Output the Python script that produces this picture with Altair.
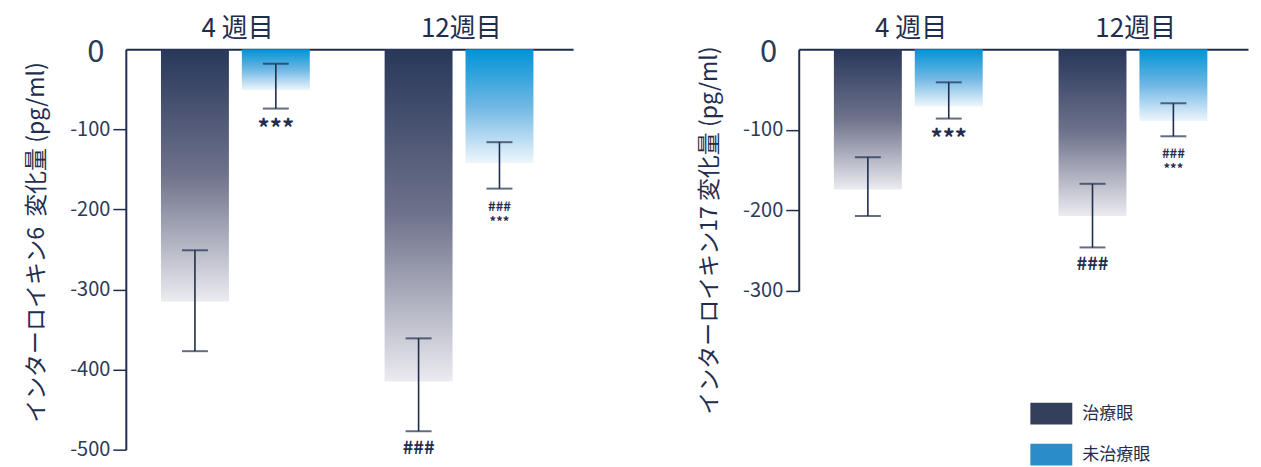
import altair as alt
import pandas as pd

groups = ["4 週目", "12週目"]
series = ["治療眼", "未治療眼"]
bar_group = [groups[0], groups[0], groups[1], groups[1]]
bar_series = [series[0], series[1], series[0], series[1]]

il6_mean = [-315, -51, -415, -142]
il6_err_lo = [-377, -74, -477, -174]
il6_err_hi = [-251, -18, -361, -116]

il17_mean = [-174, -71, -207, -89]
il17_err_lo = [-207, -86, -246, -108]
il17_err_hi = [-134, -41, -167, -67]

notes_line1 = ["", "***", "###", "###"]
notes_line2 = ["", "", "", "***"]

il6_ticks = [0, -100, -200, -300, -400, -500]
il17_ticks = [0, -100, -200, -300]

il6_title = "インターロイキン6\u00a0\u00a0変化量 (pg/ml)"
il17_title = "インターロイキン17 変化量 (pg/ml)"

NAVY = "#1f2e4e"
LABEL = "#2b3b5a"
FONT = "Noto Sans CJK JP"

grad_treated = {
    "gradient": "linear", "x1": 0, "y1": 0, "x2": 0, "y2": 1,
    "stops": [
        {"offset": 0, "color": "#28375a"},
        {"offset": 0.5, "color": "#6f738c"},
        {"offset": 1, "color": "#ebebf0"},
    ],
}
grad_untreated = {
    "gradient": "linear", "x1": 0, "y1": 0, "x2": 0, "y2": 1,
    "stops": [
        {"offset": 0, "color": "#0094d6"},
        {"offset": 0.5, "color": "#6fb7e4"},
        {"offset": 1, "color": "#eef6fc"},
    ],
}


def make_df(mean, lo, hi):
    return pd.DataFrame({
        "group": bar_group, "series": bar_series,
        "mean": mean, "lo": lo, "hi": hi,
        "note1": notes_line1, "note2": notes_line2,
    })


def panel(df, ticks, ytitle, width, height, title_y, with_legend):
    ymin = min(ticks)
    xscale = alt.Scale(domain=groups, paddingInner=0, paddingOuter=0)
    xoscale = alt.Scale(domain=series, paddingInner=0.16, paddingOuter=0.4625, align=0.47)
    yscale = alt.Scale(domain=[ymin, 0], nice=False, zero=False)

    x_axis = alt.Axis(
        orient="top", title=None, labelAngle=0, ticks=False,
        labelFontSize=26, labelPadding=8, labelColor=NAVY, labelFont=FONT,
        domainColor=NAVY, domainWidth=2,
    )
    y_axis = alt.Axis(
        values=ticks, title=ytitle,
        labelExpr="datum.value == 0 ? '0' : '-' + toString(abs(datum.value))",
        labelFontSize={"condition": {"test": "datum.value == 0", "value": 31}, "value": 20},
        labelPadding={"condition": {"test": "datum.value == 0", "value": 9}, "value": 3},
        labelOffset={"condition": {"test": "datum.value == 0", "value": 3}, "value": 0},
        labelColor=LABEL, labelFont=FONT,
        tickSize=13, tickWidth=1.5, tickColor=NAVY,
        tickOpacity={"condition": {"test": "datum.value == 0", "value": 0}, "value": 1},
        domainColor=NAVY, domainWidth=2,
        titleFont=FONT, titleFontSize=23, titleFontWeight="normal", titleColor=NAVY,
        titleX=-77, titleY=title_y, grid=False,
    )

    x = alt.X("group:N", scale=xscale, axis=x_axis)
    xo = alt.XOffset("series:N", scale=xoscale)

    def yenc(field):
        return alt.Y(field, type="quantitative", scale=yscale, axis=y_axis)

    base = alt.Chart(df)

    bars_t = base.transform_filter(alt.datum.series == series[0]).mark_bar(
        fill=grad_treated, strokeWidth=0
    ).encode(x=x, xOffset=xo, y=yenc("mean"))

    bars_u = base.transform_filter(alt.datum.series == series[1]).mark_bar(
        fill=grad_untreated, strokeWidth=0
    ).encode(x=x, xOffset=xo, y=yenc("mean"))

    rule = base.mark_rule(color=NAVY, strokeWidth=1.6).encode(
        x=x, xOffset=xo, y=yenc("lo"), y2="hi:Q",
    )
    cap_lo = base.mark_tick(orient="horizontal", size=26, thickness=2, color=NAVY).encode(
        x=x, xOffset=xo, y=yenc("lo")
    )
    cap_hi = base.mark_tick(orient="horizontal", size=26, thickness=2, color=NAVY).encode(
        x=x, xOffset=xo, y=yenc("hi")
    )

    single = base.transform_filter("datum.note2 == ''").mark_text(
        baseline="top", dy=9, font=FONT, color=NAVY, fontWeight="bold",
    ).encode(
        x=x, xOffset=xo, y=yenc("lo"), text="note1:N",
        size=alt.SizeValue(24, condition=[{"test": "datum.note1 == '###'", "value": 18}]),
    )
    stack_top = base.transform_filter("datum.note2 != ''").mark_text(
        baseline="top", dy=12, font=FONT, color=NAVY, fontWeight="bold", fontSize=13,
    ).encode(x=x, xOffset=xo, y=yenc("lo"), text="note1:N")
    stack_bottom = base.transform_filter("datum.note2 != ''").mark_text(
        baseline="top", dy=27, font=FONT, color=NAVY, fontWeight="bold", fontSize=13,
    ).encode(x=x, xOffset=xo, y=yenc("lo"), text="note2:N")

    layers = [bars_t, bars_u, rule, cap_lo, cap_hi, single, stack_top, stack_bottom]

    if with_legend:
        legend_layer = base.transform_filter("false").mark_bar().encode(
            x=x, xOffset=xo, y=yenc("mean"),
            color=alt.Color(
                "series:N",
                scale=alt.Scale(domain=series, range=["#343f5c", "#2a8cc8"]),
                legend=alt.Legend(
                    orient="none", legendX=906, legendY=344, title=None,
                    symbolType="M-1,-0.52H1V0.52H-1Z", symbolSize=1764,
                    symbolStrokeWidth=0, symbolOpacity=1,
                    labelFont=FONT, labelFontSize=17, labelColor=NAVY,
                    labelOffset=10, rowPadding=9, padding=0,
                ),
            ),
        )
        layers.append(legend_layer)

    return alt.layer(*layers).properties(width=width, height=height)


left = panel(make_df(il6_mean, il6_err_lo, il6_err_hi), il6_ticks, il6_title, 448, 401, 193, False)
right = panel(make_df(il17_mean, il17_err_lo, il17_err_hi), il17_ticks, il17_title, 450, 242, 181, True)

chart = alt.hconcat(left, right, spacing=125).properties(
    padding={"left": 17, "top": 7, "right": 5, "bottom": 2}
).configure_view(stroke=None)

chart.save("out.html", embed_options={"renderer": "svg", "actions": False})
